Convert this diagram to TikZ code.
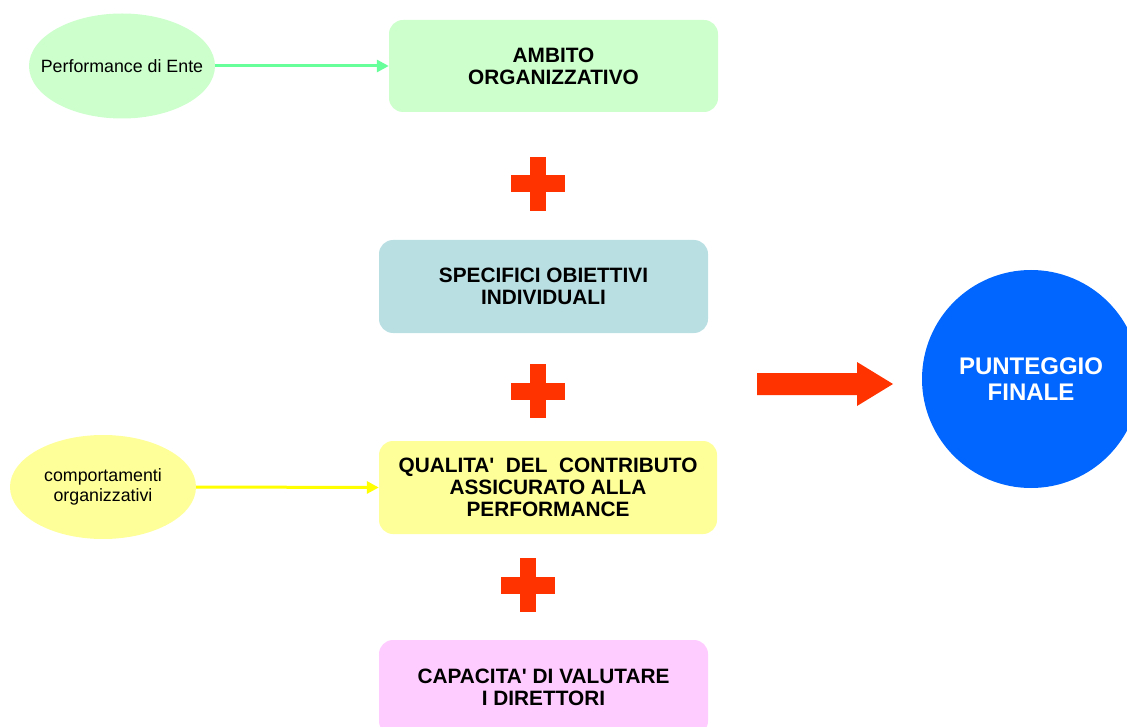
\documentclass[tikz,border=0pt]{standalone}
\usepackage{fontspec}
\setmainfont{Liberation Sans}
\usetikzlibrary{shapes.geometric,arrows.meta}
\definecolor{boxgreen}{HTML}{CCFFCC}
\definecolor{boxblue}{HTML}{BADFE3}
\definecolor{boxyellow}{HTML}{FFFF99}
\definecolor{boxpink}{HTML}{FFCCFF}
\definecolor{plusred}{HTML}{FF3300}
\definecolor{circblue}{HTML}{0066FF}
\definecolor{linegreen}{HTML}{66FF99}
\definecolor{lineyellow}{HTML}{FFFF00}
\tikzset{
  mainbox/.style={rectangle, rounded corners=14pt, draw=none, align=center,
    font=\fontsize{20.8}{22}\selectfont\bfseries, text=black, inner sep=0pt},
  oval/.style={ellipse, draw=none, align=center, inner xsep=-40pt, inner ysep=0pt,
    font=\fontsize{17.8}{20}\selectfont},
  conn/.style={line width=3pt, -{Triangle[length=12pt,width=12pt]}},
  plussign/.style={fill=plusred, draw=none},
}
\newcommand{\plusat}[2]{%
  \fill[plussign] (#1-27,#2-8.5) rectangle (#1+27,#2+8.5);
  \fill[plussign] (#1-8,#2-27) rectangle (#1+8,#2+27);}
\newcommand{\apo}{\textquotesingle}
\begin{document}
\begin{tikzpicture}[x=1pt,y=-1pt]
\useasboundingbox (0,0) rectangle (1127,727);
\clip (0,0) rectangle (1127,727);
% ellipses
\node[oval, fill=boxgreen, minimum width=186, minimum height=105] (e1) at (122,66) {Performance di Ente};
\node[oval, fill=boxyellow, minimum width=186, minimum height=104] (e2) at (103,487) {comportamenti\\organizzativi};
% boxes
\node[mainbox, fill=boxgreen, minimum width=329, minimum height=92] (b1) at (553.5,66) {AMBITO\\ORGANIZZATIVO};
\node[mainbox, fill=boxblue, minimum width=329, minimum height=93] (b2) at (543.5,286.5) {SPECIFICI OBIETTIVI\\INDIVIDUALI};
\node[mainbox, fill=boxyellow, minimum width=338, minimum height=93] (b3) at (548,487.5) {QUALITA\apo\ \ DEL\ \ CONTRIBUTO\\ASSICURATO ALLA\\PERFORMANCE};
\node[mainbox, fill=boxpink, minimum width=329, minimum height=95] (b4) at (543.5,687.5) {CAPACITA\apo{} DI VALUTARE\\I DIRETTORI};
% final circle
\node[circle, fill=circblue, minimum size=218, inner sep=0pt, align=center,
  font=\fontsize{24}{26}\selectfont\bfseries, text=white] (fin) at (1031,379) {PUNTEGGIO\\FINALE};
% connectors
\draw[conn, linegreen] (e1.east) -- (b1.west);
\draw[conn, lineyellow] (e2.east) -- (b3.west);
% plus signs
\plusat{538}{184}
\plusat{538}{391}
\plusat{528}{585}
% block arrow
\fill[plusred] (757,373) -- (857,373) -- (857,362) -- (893,384) -- (857,406) -- (857,395) -- (757,395) -- cycle;
\end{tikzpicture}
\end{document}
